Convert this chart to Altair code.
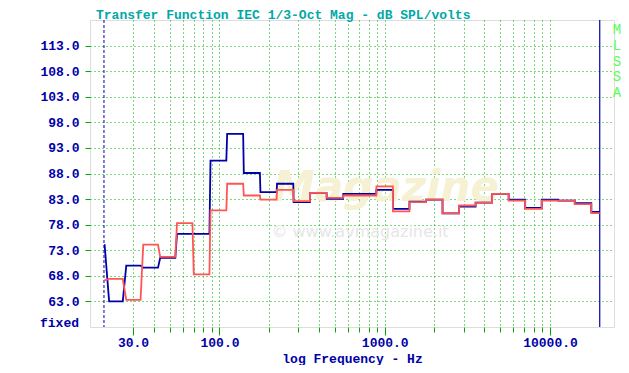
import altair as alt
import pandas as pd

# 1/3-octave band centres (Hz) and band levels (dB SPL/volts)
BAND_CENTERS = [20, 25, 31.5, 40, 50, 63, 80, 100, 125, 160, 200, 250, 315, 400, 500,
                630, 800, 1000, 1250, 1600, 2000, 2500, 3150, 4000, 5000, 6300, 8000,
                10000, 12500, 16000, 20000]
BLUE_DB = [74.0, 63.0, 70.0, 69.6, 71.5, 76.2, 76.2, 90.5, 95.75, 88.1, 84.35, 86.0,
           82.4, 84.2, 83.05, 84.0, 84.0, 84.8, 81.1, 82.5, 82.9, 80.2, 81.55, 82.3,
           84.0, 82.9, 81.3, 82.9, 82.7, 82.2, 80.5]
RED_DB = [67.1, 67.4, 63.3, 74.1, 71.7, 78.3, 68.3, 80.8, 86.0, 83.7, 82.9, 84.8,
          82.6, 84.2, 83.25, 83.7, 83.7, 85.5, 80.6, 82.4, 82.9, 80.2, 81.75, 82.3,
          84.0, 82.7, 81.1, 82.7, 82.7, 82.0, 80.25]
LIMITS_HZ = [20, 20000]
Y_TICKS = [63, 68, 73, 78, 83, 88, 93, 98, 103, 108, 113]
X_TICKS = [30, 40, 50, 60, 70, 80, 90, 100, 200, 300, 400, 500, 600, 700, 800, 900,
           1000, 2000, 3000, 4000, 5000, 6000, 7000, 8000, 9000, 10000]

TITLE = "Transfer Function IEC 1/3-Oct Mag - dB SPL/volts"
X_TITLE = "log Frequency - Hz"
WATERMARK_URL = "© www.avmagazine.it"
WATERMARK_NAME = "Magazine"

# styling
BLUE = "#0000A8"
RED = "#FF5555"
GREEN = "#00AA00"
TEAL = "#00A8A8"
LGREEN = "#55FF55"
FONT = "Liberation Mono"
LAG_HZ = (2.2, 0.9)  # the analyser's step transitions lead each band edge slightly

rows = []
n = len(BAND_CENTERS)
for name, vals in (("blue", BLUE_DB), ("red", RED_DB)):
    k = 0
    for i, v in enumerate(vals):
        lo = 10 ** ((13 + i - 0.5) / 10)
        hi = 10 ** ((13 + i + 0.5) / 10)
        f0 = LIMITS_HZ[0] if i == 0 else lo - LAG_HZ[1]
        f1 = LIMITS_HZ[1] if i == n - 1 else hi - LAG_HZ[0]
        rows.append({"s": name, "o": k, "f": f0, "db": v}); k += 1
        rows.append({"s": name, "o": k, "f": f1, "db": v}); k += 1
df = pd.DataFrame(rows)

xscale = alt.Scale(type="log", domain=[16.46, 24400], nice=False)
yscale = alt.Scale(domain=[58, 118], nice=False, zero=False)

major_test = "indexof([30,100,1000,10000], datum.value) >= 0"

xaxis = alt.Axis(
    values=X_TICKS, tickCount=60,
    labelExpr=f"{major_test} ? format(datum.value, '.1f') : ''",
    labelOverlap=False,
    grid=True, gridColor=GREEN, gridDash=[1, 3], gridWidth=1,
    domain=False,
    tickColor=GREEN, tickWidth=1,
    tickSize={"condition": {"test": major_test, "value": 8}, "value": 5},
    labelColor=BLUE, labelFont=FONT, labelFontSize=13, labelFontWeight="bold",
    labelPadding=1,
    title=X_TITLE, titleColor=BLUE, titleFont=FONT, titleFontSize=13,
    titleFontWeight="bold", titleBaseline="alphabetic", titleY=35,
)
yaxis = alt.Axis(
    values=Y_TICKS, tickCount=30,
    labelExpr="format(datum.value, '.1f')",
    labelOverlap=False,
    grid=True, gridColor=GREEN, gridDash=[1, 3], gridWidth=1,
    domain=False,
    tickColor=GREEN, tickSize=5, tickWidth=1,
    labelColor=BLUE, labelFont=FONT, labelFontSize=13, labelFontWeight="bold",
    labelPadding=6, title="",
)

base = alt.Chart(df)
blue_line = base.transform_filter(alt.datum.s == "blue").mark_line(
    color=BLUE, strokeWidth=1.8, interpolate="linear"
).encode(
    x=alt.X("f:Q", scale=xscale, axis=xaxis),
    y=alt.Y("db:Q", scale=yscale, axis=yaxis),
    order="o:Q",
)
red_line = base.transform_filter(alt.datum.s == "red").mark_line(
    color=RED, strokeWidth=1.8, interpolate="linear"
).encode(
    x=alt.X("f:Q", scale=xscale),
    y=alt.Y("db:Q", scale=yscale),
    order="o:Q",
)

lim_df = pd.DataFrame({"f": LIMITS_HZ, "kind": ["low", "high"]})
low_rule = alt.Chart(lim_df).transform_filter(alt.datum.kind == "low").mark_rule(
    color=BLUE, strokeWidth=1, strokeDash=[3, 2]
).encode(x=alt.X("f:Q", scale=xscale))
high_rule = alt.Chart(lim_df).transform_filter(alt.datum.kind == "high").mark_rule(
    color=BLUE, strokeWidth=1.2
).encode(x=alt.X("f:Q", scale=xscale))

def text_layer(txt, x, y, **kw):
    return alt.Chart(pd.DataFrame({"t": [txt]})).mark_text(**kw).encode(
        text="t:N", x=alt.value(x), y=alt.value(y))

wm_name = text_layer(WATERMARK_NAME, 296, 168, align="center", baseline="middle",
                     font="DejaVu Sans", fontSize=42, fontStyle="italic",
                     fontWeight="bold", color="#F5F1D2")
wm_url = text_layer(WATERMARK_URL, 270, 212, align="center", baseline="middle",
                    font="DejaVu Sans", fontSize=16, color="#E6E6E6")
title_txt = text_layer(TITLE, 6, -1, align="left", baseline="alphabetic", font=FONT,
                       fontSize=13, fontWeight="bold", color=TEAL)
fixed_txt = text_layer("fixed", -11, 307, align="right", baseline="alphabetic",
                       font=FONT, fontSize=13, fontWeight="bold", color=BLUE)
mlssa_txt = text_layer("M\nL\nS\nS\nA", 527, 14, align="center",
                       baseline="alphabetic", font=FONT, fontSize=14, lineBreak="\n",
                       lineHeight=15.75, color=LGREEN)

chart = alt.layer(
    wm_name, wm_url, low_rule, high_rule, blue_line, red_line,
    title_txt, fixed_txt, mlssa_txt
).properties(
    width=524, height=307,
    autosize=alt.AutoSizeParams(type="none"),
    padding={"left": 82, "top": 12, "right": 7, "bottom": 38},
).configure_view(
    stroke=BLUE, strokeWidth=1.5
).configure(background="white")

chart.save("out.html", embed_options={"renderer": "svg", "actions": False})
